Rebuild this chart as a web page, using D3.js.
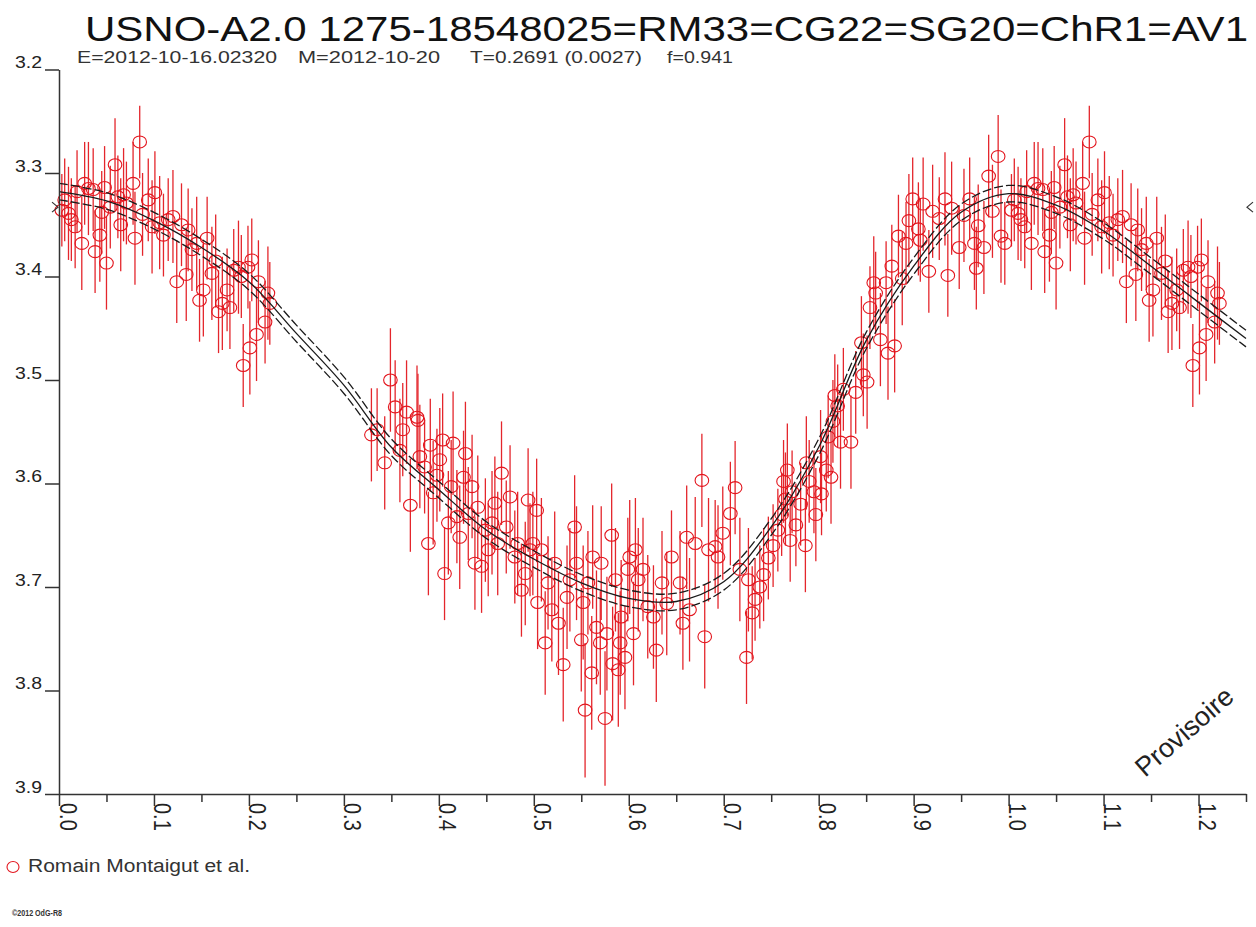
<!DOCTYPE html>
<html>
<head>
<meta charset="utf-8" />
<title>USNO-A2.0 1275-18548025</title>
<script src="https://d3js.org/d3.v7.min.js"></script>
<style>
  body { margin: 0; background: #fff; }
  svg text { font-family: "Liberation Sans", Arial, sans-serif; fill: #222; }
</style>
</head>
<body>
<svg id="chart" width="1256" height="927"></svg>
<script>
// phased light curve
var xTickValues = [0.0, 0.1, 0.2, 0.3, 0.4, 0.5, 0.6, 0.7, 0.8, 0.9, 1.0, 1.1, 1.2];
var xTickLabels = ["0.0", "0.1", "0.2", "0.3", "0.4", "0.5", "0.6", "0.7", "0.8", "0.9", "1.0", "1.1", "1.2"];
var xMinorTicks = [0.05, 0.15, 0.25, 0.35, 0.45, 0.55, 0.65, 0.75, 0.85, 0.95, 1.05, 1.15, 1.25];
var yTickValues = [3.2, 3.3, 3.4, 3.5, 3.6, 3.7, 3.8, 3.9];
var yTickLabels = ["3.2", "3.3", "3.4", "3.5", "3.6", "3.7", "3.8", "3.9"];

// fitted curve (centre) and its +/- band
var fitPhase = [0, 0.05, 0.1, 0.15, 0.2, 0.25, 0.3, 0.35, 0.4, 0.45, 0.5, 0.55, 0.6, 0.65, 0.7, 0.75, 0.8, 0.85, 0.9, 0.95, 1.0, 1.05, 1.1, 1.15, 1.2, 1.25];
var fitMag = [3.318, 3.327, 3.346, 3.372, 3.405, 3.455, 3.505, 3.565, 3.606, 3.645, 3.673, 3.696, 3.711, 3.714, 3.695, 3.642, 3.565, 3.462, 3.390, 3.338, 3.320, 3.331, 3.356, 3.390, 3.425, 3.460];
var fitBand = 0.008;
var meanMag = 3.333;

// [phase, magnitude, error]
var observations = [
  [0.003,3.336,.035],[0.006,3.326,.04],[0.010,3.339,.045],[0.013,3.345,.04],[0.017,3.352,.04],[0.019,3.318,.04],
  [0.024,3.368,.045],[0.027,3.310,.04],[0.031,3.315,.045],[0.036,3.316,.04],[0.038,3.376,.04],[0.043,3.360,.045],
  [0.045,3.338,.04],[0.048,3.314,.04],[0.050,3.387,.045],[0.054,3.333,.04],[0.059,3.292,.045],[0.062,3.323,.04],
  [0.065,3.350,.045],[0.068,3.321,.045],[0.071,3.329,.04],[0.078,3.310,.04],[0.080,3.363,.045],[0.085,3.270,.035],
  [0.088,3.340,.04],[0.094,3.326,.04],[0.098,3.352,.045],[0.101,3.319,.04],[0.106,3.348,.045],[0.110,3.360,.04],
  [0.115,3.345,.04],[0.120,3.342,.045],[0.124,3.405,.04],[0.129,3.350,.04],[0.134,3.398,.045],[0.136,3.355,.04],
  [0.140,3.374,.04],[0.145,3.368,.045],[0.148,3.423,.04],[0.152,3.413,.045],[0.156,3.363,.04],[0.161,3.397,.045],
  [0.165,3.385,.045],[0.168,3.434,.04],[0.172,3.426,.045],[0.177,3.413,.04],[0.180,3.430,.04],[0.184,3.394,.04],
  [0.189,3.391,.045],[0.192,3.400,.04],[0.194,3.486,.04],[0.199,3.391,.04],[0.201,3.469,.045],[0.203,3.384,.04],
  [0.208,3.456,.045],[0.210,3.405,.04],[0.217,3.444,.04],[0.220,3.416,.045],[0.222,3.426,.04],
  [0.329,3.553,.045],[0.335,3.548,.04],[0.343,3.580,.045],[0.349,3.500,.05],[0.354,3.526,.045],[0.359,3.568,.05],
  [0.362,3.548,.045],[0.366,3.531,.05],[0.370,3.621,.045],[0.377,3.536,.05],[0.378,3.539,.045],[0.380,3.574,.05],
  [0.385,3.584,.045],[0.389,3.658,.05],[0.391,3.563,.045],[0.394,3.609,.05],[0.398,3.592,.045],[0.401,3.577,.05],
  [0.404,3.558,.045],[0.406,3.687,.045],[0.410,3.638,.05],[0.413,3.603,.045],[0.415,3.561,.05],[0.419,3.632,.045],
  [0.422,3.652,.05],[0.426,3.594,.045],[0.428,3.571,.05],[0.431,3.629,.045],[0.435,3.603,.05],[0.438,3.677,.045],
  [0.441,3.623,.05],[0.445,3.680,.045],[0.449,3.645,.05],[0.452,3.664,.045],[0.456,3.638,.05],[0.459,3.619,.045],
  [0.462,3.658,.05],[0.466,3.590,.05],[0.471,3.642,.045],[0.475,3.613,.05],[0.480,3.671,.045],[0.483,3.658,.05],
  [0.487,3.703,.045],[0.491,3.687,.05],[0.494,3.616,.05],[0.496,3.664,.045],[0.499,3.658,.05],[0.503,3.626,.05],
  [0.504,3.715,.045],[0.508,3.664,.05],[0.512,3.754,.05],[0.515,3.696,.045],[0.519,3.722,.05],[0.522,3.677,.05],
  [0.526,3.735,.05],[0.531,3.775,.055],[0.535,3.710,.05],[0.538,3.693,.05],[0.543,3.642,.05],[0.545,3.677,.055],
  [0.550,3.751,.05],[0.552,3.715,.055],[0.554,3.819,.065],[0.557,3.696,.05],[0.561,3.783,.055],[0.562,3.671,.05],
  [0.566,3.739,.055],[0.570,3.754,.05],[0.571,3.677,.055],[0.575,3.827,.065],[0.577,3.745,.055],[0.582,3.650,.05],
  [0.583,3.774,.055],[0.586,3.693,.05],[0.589,3.780,.055],[0.591,3.754,.05],[0.592,3.729,.055],[0.596,3.768,.05],
  [0.599,3.683,.05],[0.601,3.671,.055],[0.605,3.745,.05],[0.607,3.664,.05],[0.610,3.693,.05],[0.615,3.683,.05],
  [0.620,3.719,.05],[0.626,3.729,.05],[0.629,3.761,.05],[0.635,3.696,.05],[0.640,3.716,.05],[0.645,3.671,.045],
  [0.654,3.696,.05],[0.657,3.735,.045],[0.661,3.652,.05],[0.664,3.722,.05],[0.670,3.658,.045],[0.677,3.597,.045],
  [0.680,3.748,.05],[0.684,3.664,.05],[0.691,3.661,.045],[0.694,3.671,.05],[0.699,3.648,.045],[0.707,3.629,.05],
  [0.712,3.604,.045],[0.717,3.683,.05],[0.724,3.768,.045],[0.726,3.693,.05],
  [0.730,3.725,.045],[0.733,3.712,.04],[0.738,3.700,.04],[0.742,3.688,.045],[0.747,3.672,.04],[0.752,3.660,.04],
  [0.757,3.645,.04],[0.761,3.630,.04],[0.765,3.615,.045],[0.770,3.655,.04],[0.776,3.640,.04],[0.781,3.620,.04],
  [0.786,3.660,.045],[0.790,3.598,.04],[0.797,3.630,.045],[0.803,3.610,.04],[0.810,3.555,.04],[0.815,3.540,.04],
  [0.820,3.525,.04],
  [0.763,3.598,.04],[0.767,3.587,.045],[0.772,3.608,.04],[0.787,3.580,.045],[0.795,3.608,.04],[0.802,3.574,.045],
  [0.808,3.587,.04],[0.813,3.594,.045],[0.817,3.515,.04],[0.823,3.560,.045],[0.826,3.509,.04],[0.834,3.560,.045],
  [0.839,3.512,.04],[0.845,3.464,.045],[0.847,3.495,.04],[0.851,3.502,.045],[0.854,3.430,.04],[0.858,3.406,.045],
  [0.860,3.416,.04],[0.865,3.461,.045],[0.871,3.406,.04],[0.873,3.474,.045],[0.877,3.390,.04],[0.880,3.467,.045],
  [0.884,3.361,.04],[0.888,3.402,.045],[0.892,3.368,.04],[0.895,3.346,.045],[0.899,3.325,.04],[0.905,3.354,.045],
  [0.907,3.365,.04],[0.910,3.330,.045],[0.916,3.395,.04],[0.920,3.337,.045],[0.927,3.344,.04],[0.933,3.325,.045],
  [0.936,3.399,.04],[0.940,3.334,.045],[0.948,3.372,.04],[0.953,3.341,.045],[0.959,3.325,.04],[0.964,3.368,.045],
  [0.966,3.392,.04],[0.968,3.351,.04],[0.974,3.372,.045],[0.979,3.303,.04],[0.983,3.337,.045],[0.989,3.284,.04],
  [0.992,3.361,.045],[0.996,3.368,.04]
];

var svg = d3.select("#chart");
var x = d3.scaleLinear().domain([0, 1.25]).range([59, 1246]);
var y = d3.scaleLinear().domain([3.2, 3.9]).range([69.5, 794]);

// phases below 0.25 are repeated after 1.0
var points = observations.map(function(d) { return {p: d[0], m: d[1], e: d[2]}; });
observations.forEach(function(d) {
  if (d[0] + 1 <= 1.25) points.push({p: d[0] + 1, m: d[1], e: d[2]});
});

// error bars then circles
svg.append("g").selectAll("line")
  .data(points).enter().append("line")
  .attr("x1", function(d) { return x(d.p); })
  .attr("x2", function(d) { return x(d.p); })
  .attr("y1", function(d) { return y(d.m - d.e); })
  .attr("y2", function(d) { return y(d.m + d.e); })
  .attr("stroke", "#e4262c")
  .attr("stroke-width", 1.3);

svg.append("g").selectAll("ellipse")
  .data(points).enter().append("ellipse")
  .attr("cx", function(d) { return x(d.p); })
  .attr("cy", function(d) { return y(d.m); })
  .attr("rx", 6.8)
  .attr("ry", 6)
  .attr("fill", "none")
  .attr("stroke", "#e3161e")
  .attr("stroke-width", 1.1);

// fit curve
var fit = fitPhase.map(function(p, i) { return {p: p, m: fitMag[i]}; });
function fitLine(off) {
  return d3.line()
    .x(function(d) { return x(d.p); })
    .y(function(d) { return y(d.m + off); })
    .curve(d3.curveCatmullRom)(fit);
}
svg.append("path").attr("d", fitLine(0))
  .attr("fill", "none").attr("stroke", "#1a1a1a").attr("stroke-width", 1.3);
svg.append("path").attr("d", fitLine(-fitBand))
  .attr("fill", "none").attr("stroke", "#1a1a1a").attr("stroke-width", 1.3)
  .attr("stroke-dasharray", "9,3");
svg.append("path").attr("d", fitLine(fitBand))
  .attr("fill", "none").attr("stroke", "#1a1a1a").attr("stroke-width", 1.3)
  .attr("stroke-dasharray", "9,3");

// axes
var xAxis = svg.append("g")
  .attr("transform", "translate(0," + y(3.9) + ")")
  .call(d3.axisBottom(x).tickValues(xTickValues).tickSize(12).tickSizeOuter(0)
    .tickFormat(function(d, i) { return xTickLabels[i]; }));
svg.append("g")
  .attr("transform", "translate(0," + y(3.9) + ")")
  .call(d3.axisBottom(x).tickValues(xMinorTicks).tickSize(8).tickFormat(""))
  .select(".domain").remove();
xAxis.attr("font-size", null).attr("font-family", null);
xAxis.selectAll("text")
  .attr("transform", "scale(1.18,1) rotate(90)")
  .attr("x", 9).attr("y", 0).attr("dy", 0)
  .style("text-anchor", "start")
  .style("font-size", "20px");

var yAxis = svg.append("g")
  .attr("transform", "translate(" + x(0) + ",0)")
  .call(d3.axisLeft(y).tickValues(yTickValues).tickSize(14).tickSizeOuter(0)
    .tickFormat(function(d, i) { return yTickLabels[i]; }));
yAxis.attr("font-size", null).attr("font-family", null);
yAxis.selectAll("text")
  .attr("dy", "-0.1em")
  .attr("textLength", 27)
  .attr("lengthAdjust", "spacingAndGlyphs")
  .style("font-size", "16px");

svg.selectAll(".domain, .tick line").attr("stroke", "#333").attr("stroke-width", 1.5);

// mean level markers
svg.append("path")
  .attr("d", "M" + (x(0) - 7) + "," + (y(meanMag) - 5) + "L" + (x(0) - 1) + "," + y(meanMag) + "L" + (x(0) - 7) + "," + (y(meanMag) + 5))
  .attr("fill", "none").attr("stroke", "#333").attr("stroke-width", 1.2);
svg.append("path")
  .attr("d", "M" + (x(1.25) + 7) + "," + (y(meanMag) - 5) + "L" + (x(1.25) + 1) + "," + y(meanMag) + "L" + (x(1.25) + 7) + "," + (y(meanMag) + 5))
  .attr("fill", "none").attr("stroke", "#333").attr("stroke-width", 1.2);

// titles
svg.append("text").attr("x", 85).attr("y", 41)
  .attr("textLength", 1163).attr("lengthAdjust", "spacingAndGlyphs")
  .style("font-size", "35px").style("fill", "#111")
  .text("USNO-A2.0 1275-18548025=RM33=CG22=SG20=ChR1=AV1");

var subParts = [["E=2012-10-16.02320", 77, 200], ["M=2012-10-20", 298, 142], ["T=0.2691 (0.0027)", 470, 172], ["f=0.941", 667, 66]];
subParts.forEach(function(s) {
  svg.append("text").attr("x", s[1]).attr("y", 63)
    .attr("textLength", s[2]).attr("lengthAdjust", "spacingAndGlyphs")
    .style("font-size", "17px").style("fill", "#333")
    .text(s[0]);
});

svg.append("text")
  .attr("transform", "translate(1145,778) rotate(-41)")
  .style("font-size", "27px").style("fill", "#222")
  .text("Provisoire");

// legend
svg.append("ellipse").attr("cx", 13).attr("cy", 867).attr("rx", 6).attr("ry", 5.5)
  .attr("fill", "none").attr("stroke", "#e3161e").attr("stroke-width", 1.1);
svg.append("text").attr("x", 28).attr("y", 872)
  .attr("textLength", 222).attr("lengthAdjust", "spacingAndGlyphs")
  .style("font-size", "18px").style("fill", "#333")
  .text("Romain Montaigut et al.");

svg.append("text").attr("x", 12).attr("y", 916)
  .attr("textLength", 50).attr("lengthAdjust", "spacingAndGlyphs")
  .style("font-size", "9px").style("font-weight", "bold").style("fill", "#333")
  .text("©2012 OdG-R8");
</script>
</body>
</html>
